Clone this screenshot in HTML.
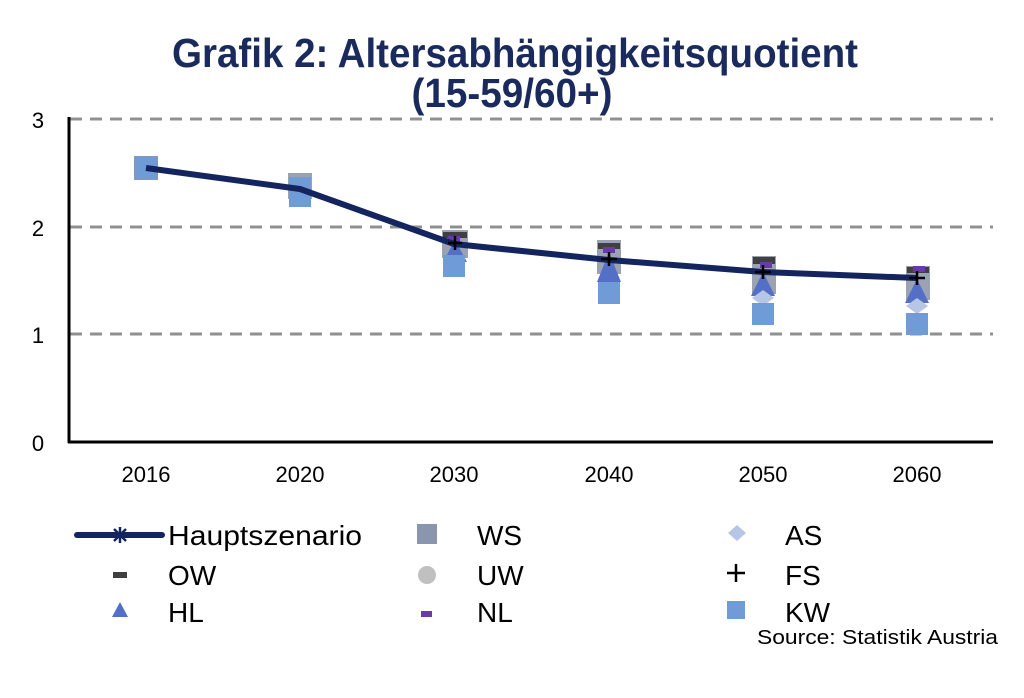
<!DOCTYPE html>
<html><head><meta charset="utf-8"><style>
html,body{margin:0;padding:0;background:#fff;}
svg{display:block;}
</style></head><body>
<svg width="1024" height="698" viewBox="0 0 1024 698" xmlns="http://www.w3.org/2000/svg" font-family="Liberation Sans, sans-serif">
<rect width="1024" height="698" fill="#fff"/>
<text x="515" y="67" text-anchor="middle" font-size="41" font-weight="bold" fill="#1a2a5c" textLength="686" lengthAdjust="spacingAndGlyphs">Grafik 2: Altersabhängigkeitsquotient</text>
<text x="512" y="107" text-anchor="middle" font-size="41" font-weight="bold" fill="#1a2a5c" textLength="201" lengthAdjust="spacingAndGlyphs">(15-59/60+)</text>
<g stroke="#909090" stroke-width="3" stroke-dasharray="12,8">
<line x1="70" y1="119" x2="993" y2="119"/>
<line x1="70" y1="227" x2="993" y2="227"/>
<line x1="70" y1="334" x2="993" y2="334"/>
</g>
<line x1="69" y1="117" x2="69" y2="443" stroke="#000" stroke-width="3"/>
<line x1="68" y1="442" x2="993" y2="442" stroke="#000" stroke-width="3"/>
<g font-size="22" fill="#000" text-anchor="middle">
<text x="38" y="128">3</text><text x="38" y="236">2</text><text x="38" y="343">1</text><text x="38" y="451">0</text>
<text x="146" y="482">2016</text><text x="300" y="482">2020</text><text x="454" y="482">2030</text><text x="609" y="482">2040</text><text x="763" y="482">2050</text><text x="917" y="482">2060</text>
</g>
<g>
<rect x="134" y="156" width="24" height="24" fill="#8a96ae"/>
<rect x="135" y="157" width="22" height="22" fill="#6f9bd6"/>
<rect x="288" y="173" width="24" height="26" fill="#9aa2b4"/>
<rect x="293" y="180" width="14" height="6" fill="#6a3aa8"/>
<rect x="289" y="177" width="22" height="30" fill="#6f9bd6"/>
<rect x="442" y="230" width="26" height="28" fill="#9aa2b4"/>
<rect x="443" y="232" width="24" height="6" fill="#404040"/>
<rect x="448" y="236" width="12" height="6" fill="#6a3aa8"/>
<polygon points="455,240 443,262 467,262" fill="#5470c6"/>
<rect x="443" y="255" width="22" height="22" fill="#6f9bd6"/>
<rect x="597" y="240" width="24" height="34" fill="#9aa2b4"/>
<rect x="598" y="243" width="22" height="6" fill="#404040"/>
<rect x="603" y="247" width="12" height="6" fill="#6a3aa8"/>
<polygon points="609,252 597,282 621,282" fill="#5470c6"/>
<rect x="598" y="282" width="22" height="22" fill="#6f9bd6"/>
<rect x="752" y="256" width="24" height="38" fill="#9aa2b4"/>
<rect x="753" y="257" width="22" height="7" fill="#404040"/>
<rect x="760" y="262" width="12" height="6" fill="#6a3aa8"/>
<polygon points="763,272 751,296 775,296" fill="#5470c6"/>
<polygon points="763,290 774,298 763,306 752,298" fill="#b8c6e6"/>
<rect x="752" y="303" width="22" height="22" fill="#6f9bd6"/>
<rect x="906" y="266" width="24" height="34" fill="#9aa2b4"/>
<rect x="907" y="267" width="22" height="6" fill="#404040"/>
<rect x="913" y="266" width="12" height="6" fill="#6a3aa8"/>
<polygon points="917,279 905,303 929,303" fill="#5470c6"/>
<polygon points="917,298 928,306 917,314 906,306" fill="#b8c6e6"/>
<rect x="906" y="313" width="22" height="22" fill="#6f9bd6"/>
</g>
<polyline points="146,168 300,189 454,244 609,260 763,272 917,278" fill="none" stroke="#13245e" stroke-width="6" stroke-linejoin="round"/>
<g stroke="#000" stroke-width="2.5">
<line x1="448" y1="243" x2="462" y2="243"/><line x1="455" y1="236" x2="455" y2="250"/>
<line x1="601" y1="259" x2="617" y2="259"/><line x1="609" y1="252" x2="609" y2="266"/>
<line x1="755" y1="272" x2="771" y2="272"/><line x1="763" y1="265" x2="763" y2="279"/>
<line x1="909" y1="278" x2="925" y2="278"/><line x1="917" y1="271" x2="917" y2="285"/>
</g>
<line x1="77" y1="535" x2="162" y2="535" stroke="#13245e" stroke-width="6" stroke-linecap="round"/>
<g stroke="#13245e" stroke-width="2.5"><line x1="112" y1="535" x2="128" y2="535"/><line x1="120" y1="527" x2="120" y2="543"/><line x1="114" y1="529" x2="126" y2="541"/><line x1="126" y1="529" x2="114" y2="541"/></g>
<rect x="113" y="572" width="14" height="6" fill="#404040"/>
<polygon points="120,602 112,617 128,617" fill="#5470c6"/>
<rect x="417" y="524" width="20" height="20" fill="#8a96ae"/>
<circle cx="427" cy="575" r="9" fill="#c0c0c0"/>
<rect x="421" y="611" width="11" height="6" fill="#6a3aa8"/>
<polygon points="737,525 746,533 737,541 728,533" fill="#b8c6e6"/>
<g stroke="#000" stroke-width="2.5"><line x1="727" y1="573" x2="745" y2="573"/><line x1="736" y1="564" x2="736" y2="582"/></g>
<rect x="727" y="601" width="18" height="18" fill="#6f9bd6"/>
<g font-size="28" fill="#000">
<text x="168" y="545" textLength="194" lengthAdjust="spacingAndGlyphs">Hauptszenario</text>
<text x="168" y="585">OW</text>
<text x="168" y="622">HL</text>
<text x="477" y="545">WS</text>
<text x="477" y="585">UW</text>
<text x="477" y="622">NL</text>
<text x="785" y="545">AS</text>
<text x="785" y="585">FS</text>
<text x="785" y="622">KW</text>
</g>
<text x="757" y="644" font-size="20" fill="#000" textLength="241" lengthAdjust="spacingAndGlyphs">Source: Statistik Austria</text>
</svg>
</body></html>
